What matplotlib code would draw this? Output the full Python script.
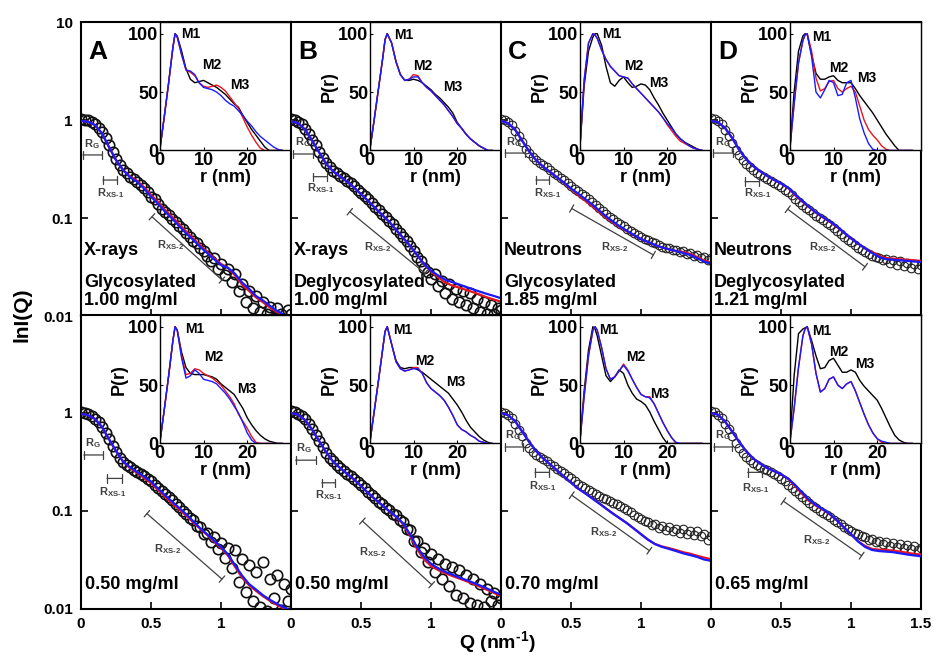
import matplotlib.pyplot as plt
from matplotlib.ticker import NullLocator

plt.rcParams['font.family'] = ['Liberation Sans', 'DejaVu Sans']
plt.rcParams['font.weight'] = 'bold'
plt.rcParams['axes.labelweight'] = 'bold'
plt.rcParams['mathtext.fontset'] = 'custom'
plt.rcParams['mathtext.rm'] = 'Liberation Sans:bold'
plt.rcParams['mathtext.it'] = 'Liberation Sans:bold'
plt.rcParams['mathtext.bf'] = 'Liberation Sans:bold'
plt.rcParams['mathtext.default'] = 'rm'

# Q grids (nm^-1) for the modelled curves and the measured points
q_fit = [0.0, 0.05, 0.1, 0.15, 0.2, 0.25, 0.3, 0.35, 0.4, 0.45, 0.5, 0.55, 0.6, 0.65, 0.7, 0.75,
         0.8, 0.85, 0.9, 0.95, 1.0, 1.05, 1.1, 1.15, 1.2, 1.25, 1.3, 1.35, 1.4, 1.45, 1.5]
q_exp = [0.0, 0.025, 0.05, 0.075, 0.1, 0.125, 0.15, 0.175, 0.2, 0.225, 0.25, 0.275, 0.3, 0.325,
         0.35, 0.375, 0.4, 0.425, 0.45, 0.475, 0.5, 0.525, 0.55, 0.575, 0.6, 0.625, 0.65, 0.675,
         0.7, 0.725, 0.75, 0.775, 0.8, 0.825, 0.85, 0.875, 0.9, 0.925, 0.95, 0.975, 1.0, 1.025,
         1.05, 1.075, 1.1, 1.125, 1.15, 1.175, 1.2, 1.225, 1.25, 1.275, 1.3, 1.325, 1.35, 1.375,
         1.4, 1.425, 1.45, 1.475, 1.5]
# r grid (nm) for the distance distributions
r_nm = [0, 1, 2, 3, 3.5, 4, 5, 6, 7, 8, 9, 10, 11, 12, 13, 14, 15, 16, 17, 18, 19, 20, 21, 22,
        23, 24, 25, 26, 27, 28]

# ---- A, X-rays glycosylated 1.00 mg/ml
exp_a1 = [1.02, 1.01, 0.99, 0.95, 0.90, 0.83, 0.75, 0.65, 0.56, 0.47, 0.40, 0.35, 0.31, 0.285, 0.265,
          0.25, 0.235, 0.215, 0.20, 0.185, 0.165, 0.155, 0.14, 0.125, 0.115, 0.107, 0.097, 0.09, 0.082,
          0.077, 0.07, 0.064, 0.058, 0.055, 0.05, 0.046, 0.041, 0.036, 0.039, 0.030, 0.034, 0.026, 0.030,
          0.022, 0.027, 0.018, 0.021, 0.014, 0.018, 0.012, 0.016, 0.011, 0.014, 0.0105, 0.0125, 0.0095,
          0.012, 0.0105, 0.009, 0.0115, 0.0105]
red_a1 = [0.98, 0.96, 0.89, 0.73, 0.53, 0.39, 0.31, 0.265, 0.24, 0.207, 0.172, 0.146, 0.121, 0.103, 0.087,
          0.073, 0.062, 0.053, 0.045, 0.039, 0.034, 0.031, 0.026, 0.021, 0.018, 0.0155, 0.0138, 0.0122,
          0.011, 0.0101, 0.0092]
blue_a1 = [0.98, 0.96, 0.89, 0.73, 0.53, 0.39, 0.31, 0.26, 0.235, 0.20, 0.165, 0.14, 0.116, 0.099, 0.083,
           0.07, 0.06, 0.051, 0.044, 0.038, 0.033, 0.031, 0.027, 0.022, 0.019, 0.016, 0.0144, 0.0127,
           0.0113, 0.0103, 0.0093]
pr_black_a1 = [0, 28, 57, 88, 100, 98, 85, 70, 61, 58, 59, 60, 58, 56, 54, 51, 48, 44, 40, 37, 30, 24,
               18, 13, 8, 3, 0, 0, 0, 0]
pr_red_a1 = [0, 28, 57, 88, 100, 97, 82, 69, 67, 64, 58, 55, 54, 55, 56, 54, 51, 46, 41, 36, 28, 20,
             13, 7, 2, 0, 0, 0, 0, 0]
pr_blue_a1 = [0, 28, 57, 88, 100, 97, 82, 69, 68, 65, 58, 54, 53, 52, 50, 47, 43, 40, 38, 34, 30, 25,
              21, 16, 12, 9, 6, 3, 1, 0]

# ---- B, X-rays deglycosylated 1.00 mg/ml
exp_b1 = [1.03, 1.01, 0.96, 0.90, 0.81, 0.72, 0.63, 0.55, 0.47, 0.41, 0.36, 0.33, 0.305, 0.285, 0.27,
          0.255, 0.24, 0.225, 0.21, 0.195, 0.18, 0.167, 0.155, 0.143, 0.131, 0.12, 0.111, 0.102, 0.094,
          0.086, 0.078, 0.071, 0.064, 0.058, 0.052, 0.046, 0.040, 0.036, 0.031, 0.028, 0.024, 0.027,
          0.020, 0.023, 0.017, 0.021, 0.015, 0.019, 0.014, 0.018, 0.013, 0.017, 0.012, 0.015, 0.011,
          0.014, 0.0105, 0.013, 0.0105, 0.012, 0.0115]
red_b1 = [0.97, 0.93, 0.80, 0.62, 0.47, 0.36, 0.30, 0.265, 0.235, 0.205, 0.175, 0.15, 0.127, 0.108, 0.092,
          0.076, 0.063, 0.052, 0.042, 0.034, 0.0285, 0.025, 0.022, 0.0205, 0.0195, 0.0185, 0.0175,
          0.0165, 0.0155, 0.0147, 0.014]
blue_b1 = [0.97, 0.93, 0.80, 0.62, 0.47, 0.36, 0.30, 0.265, 0.235, 0.205, 0.175, 0.15, 0.127, 0.108, 0.092,
           0.076, 0.063, 0.052, 0.042, 0.034, 0.029, 0.026, 0.0235, 0.0222, 0.021, 0.0198, 0.0187,
           0.0177, 0.0168, 0.016, 0.0152]
pr_black_b1 = [0, 26, 53, 80, 95, 100, 92, 76, 65, 60, 60, 61, 60, 58, 55, 52, 48, 45, 41, 37, 32, 24,
               19, 14, 10, 7, 4, 2, 0, 0]
pr_red_b1 = [0, 26, 53, 80, 95, 100, 92, 76, 65, 60, 61, 65, 64, 58, 54, 51, 47, 43, 39, 34, 29, 23,
             19, 14, 10, 7, 4, 2, 0, 0]
pr_blue_b1 = [0, 26, 53, 80, 95, 100, 92, 76, 65, 60, 61, 63, 63, 58, 54, 51, 47, 43, 39, 34, 29, 23,
              19, 14, 10, 7, 4, 2, 0, 0]

# ---- C, neutrons glycosylated 1.85 mg/ml
exp_c1 = [1.03, 1.0, 0.95, 0.88, 0.78, 0.68, 0.59, 0.51, 0.46, 0.42, 0.39, 0.365, 0.35, 0.33, 0.31,
          0.29, 0.272, 0.257, 0.242, 0.226, 0.212, 0.199, 0.188, 0.176, 0.166, 0.156, 0.146, 0.136,
          0.127, 0.118, 0.110, 0.103, 0.097, 0.091, 0.086, 0.082, 0.078, 0.074, 0.070, 0.067, 0.064,
          0.061, 0.059, 0.057, 0.055, 0.053, 0.051, 0.049, 0.049, 0.047, 0.047, 0.045, 0.046, 0.043,
          0.044, 0.041, 0.042, 0.039, 0.040, 0.037, 0.039]
red_c1 = [0.98, 0.93, 0.80, 0.62, 0.48, 0.39, 0.335, 0.295, 0.26, 0.228, 0.197, 0.172, 0.151, 0.133,
          0.116, 0.101, 0.090, 0.081, 0.073, 0.067, 0.061, 0.057, 0.053, 0.050, 0.048, 0.046, 0.045,
          0.043, 0.040, 0.037, 0.035]
blue_c1 = [0.98, 0.93, 0.80, 0.62, 0.48, 0.39, 0.335, 0.295, 0.26, 0.23, 0.20, 0.178, 0.157, 0.138,
           0.12, 0.104, 0.092, 0.082, 0.074, 0.067, 0.061, 0.057, 0.053, 0.050, 0.048, 0.046, 0.044,
           0.042, 0.039, 0.036, 0.034]
pr_black_c1 = [0, 55, 85, 97, 100, 100, 90, 72, 58, 55, 60, 63, 58, 54, 55, 57, 56, 52, 45, 39, 32, 26,
               20, 14, 10, 7, 5, 3, 1, 0]
pr_red_c1 = [0, 60, 92, 100, 99, 96, 86, 78, 72, 68, 64, 63, 62, 57, 53, 49, 45, 41, 37, 33, 28, 22,
             17, 12, 8, 6, 4, 2, 1, 0]
pr_blue_c1 = [0, 60, 92, 100, 99, 96, 86, 78, 72, 68, 64, 63, 62, 57, 53, 49, 45, 41, 37, 33, 28, 23,
              19, 14, 10, 7, 4, 2, 1, 0]

# ---- D, neutrons deglycosylated 1.21 mg/ml
exp_d1 = [1.05, 1.03, 0.98, 0.90, 0.79, 0.68, 0.58, 0.50, 0.44, 0.39, 0.355, 0.33, 0.31, 0.29, 0.275,
          0.26, 0.25, 0.237, 0.226, 0.215, 0.205, 0.195, 0.183, 0.17, 0.158, 0.146, 0.136, 0.127, 0.12,
          0.112, 0.106, 0.1, 0.095, 0.089, 0.084, 0.079, 0.074, 0.069, 0.064, 0.060, 0.057, 0.053,
          0.050, 0.047, 0.045, 0.043, 0.041, 0.040, 0.039, 0.037, 0.038, 0.035, 0.037, 0.033, 0.036,
          0.032, 0.035, 0.031, 0.034, 0.030, 0.033]
red_d1 = [0.98, 0.95, 0.83, 0.66, 0.50, 0.40, 0.34, 0.30, 0.27, 0.245, 0.225, 0.203, 0.172, 0.148, 0.129,
          0.113, 0.101, 0.091, 0.081, 0.071, 0.062, 0.055, 0.049, 0.045, 0.041, 0.039, 0.0385, 0.038,
          0.0375, 0.037, 0.0365]
blue_d1 = [0.98, 0.95, 0.83, 0.66, 0.50, 0.40, 0.34, 0.30, 0.27, 0.245, 0.225, 0.205, 0.175, 0.15, 0.13,
           0.114, 0.102, 0.092, 0.082, 0.071, 0.062, 0.055, 0.049, 0.044, 0.040, 0.038, 0.0375, 0.037,
           0.0365, 0.036, 0.0355]
pr_black_d1 = [0, 50, 85, 98, 100, 99, 82, 66, 61, 61, 63, 64, 60, 58, 58, 58, 53, 47, 42, 37, 32, 26,
               20, 14, 9, 4, 0, 0, 0, 0]
pr_red_d1 = [0, 40, 75, 94, 99, 100, 85, 62, 51, 53, 59, 60, 53, 50, 53, 55, 50, 38, 26, 18, 13, 9,
             4, 1, 0, 0, 0, 0, 0, 0]
pr_blue_d1 = [0, 40, 75, 94, 99, 100, 80, 50, 45, 52, 60, 58, 47, 48, 58, 60, 45, 27, 15, 6, 1, 0,
              0, 0, 0, 0, 0, 0, 0, 0]

# ---- A, X-rays glycosylated 0.50 mg/ml
exp_a2 = [1.02, 1.0, 0.97, 0.93, 0.87, 0.80, 0.72, 0.63, 0.54, 0.46, 0.40, 0.35, 0.315, 0.295, 0.28,
          0.265, 0.25, 0.24, 0.225, 0.21, 0.20, 0.185, 0.172, 0.16, 0.148, 0.138, 0.128, 0.118, 0.11,
          0.100, 0.094, 0.085, 0.080, 0.071, 0.068, 0.058, 0.060, 0.048, 0.054, 0.041, 0.047, 0.033,
          0.042, 0.026, 0.040, 0.019, 0.032, 0.015, 0.028, 0.012, 0.024, 0.0105, 0.030, 0.0095, 0.020,
          0.013, 0.022, 0.0098, 0.018, 0.012, 0.016]
red_a2 = [0.98, 0.95, 0.87, 0.72, 0.54, 0.41, 0.32, 0.275, 0.245, 0.218, 0.193, 0.164, 0.14, 0.12, 0.104,
          0.09, 0.077, 0.066, 0.057, 0.049, 0.042, 0.035, 0.027, 0.021, 0.0175, 0.0153, 0.0135, 0.0121,
          0.011, 0.0101, 0.0093]
blue_a2 = [0.98, 0.95, 0.87, 0.72, 0.54, 0.41, 0.32, 0.28, 0.25, 0.225, 0.20, 0.17, 0.145, 0.125, 0.108,
           0.093, 0.079, 0.067, 0.058, 0.050, 0.043, 0.036, 0.028, 0.022, 0.018, 0.0158, 0.0138, 0.0124,
           0.0113, 0.0104, 0.0096]
pr_black_a2 = [0, 28, 57, 88, 100, 97, 78, 65, 60, 59, 59, 59, 58, 57, 55, 51, 48, 45, 42, 36, 30, 22,
               16, 11, 7, 4, 2, 1, 0, 0]
pr_red_a2 = [0, 28, 57, 88, 100, 97, 75, 59, 60, 64, 63, 60, 58, 56, 53, 50, 45, 40, 34, 25, 19, 13,
             6, 1, 0, 0, 0, 0, 0, 0]
pr_blue_a2 = [0, 28, 57, 88, 100, 97, 73, 56, 58, 63, 60, 55, 54, 53, 51, 47, 43, 38, 32, 26, 18, 9,
              3, 0, 0, 0, 0, 0, 0, 0]

# ---- B, X-rays deglycosylated 0.50 mg/ml
exp_b2 = [1.04, 1.02, 0.98, 0.93, 0.86, 0.78, 0.69, 0.60, 0.52, 0.45, 0.39, 0.35, 0.32, 0.295, 0.275,
          0.258, 0.24, 0.226, 0.21, 0.197, 0.183, 0.17, 0.157, 0.146, 0.136, 0.125, 0.118, 0.108, 0.103,
          0.093, 0.090, 0.080, 0.078, 0.066, 0.064, 0.050, 0.050, 0.038, 0.042, 0.030, 0.036, 0.024,
          0.032, 0.020, 0.029, 0.017, 0.027, 0.014, 0.025, 0.013, 0.022, 0.0115, 0.020, 0.011, 0.018,
          0.0105, 0.016, 0.012, 0.0145, 0.011, 0.013]
red_b2 = [1.0, 0.96, 0.85, 0.68, 0.52, 0.40, 0.32, 0.275, 0.24, 0.21, 0.18, 0.153, 0.132, 0.115, 0.10,
          0.087, 0.074, 0.056, 0.041, 0.032, 0.0275, 0.025, 0.0232, 0.0218, 0.0205, 0.0193, 0.0181,
          0.0169, 0.0157, 0.0146, 0.0135]
blue_b2 = [1.0, 0.96, 0.85, 0.68, 0.52, 0.40, 0.32, 0.275, 0.24, 0.21, 0.18, 0.153, 0.132, 0.115, 0.10,
           0.088, 0.075, 0.058, 0.043, 0.034, 0.029, 0.026, 0.024, 0.0225, 0.021, 0.0198, 0.0186,
           0.0174, 0.0162, 0.015, 0.014]
pr_black_b2 = [0, 27, 54, 82, 96, 100, 85, 71, 65, 64, 65, 65, 63, 61, 58, 55, 52, 49, 46, 43, 38, 33,
               27, 20, 14, 10, 6, 3, 1, 0]
pr_red_b2 = [0, 27, 54, 82, 96, 100, 85, 70, 64, 62, 63, 65, 65, 60, 52, 47, 44, 41, 37, 31, 24, 16,
             12, 10, 7, 5, 2, 1, 0, 0]
pr_blue_b2 = [0, 27, 54, 82, 96, 100, 85, 70, 64, 62, 63, 64, 64, 60, 52, 47, 44, 41, 37, 31, 24, 16,
              12, 10, 7, 5, 2, 1, 0, 0]

# ---- C, neutrons glycosylated 0.70 mg/ml
exp_c2 = [1.03, 1.01, 0.96, 0.88, 0.78, 0.67, 0.58, 0.50, 0.44, 0.40, 0.37, 0.355, 0.34, 0.32, 0.30,
          0.285, 0.27, 0.255, 0.242, 0.228, 0.215, 0.202, 0.19, 0.18, 0.17, 0.162, 0.155, 0.148, 0.142,
          0.137, 0.132, 0.127, 0.122, 0.117, 0.112, 0.107, 0.102, 0.097, 0.092, 0.087, 0.083, 0.079,
          0.077, 0.072, 0.073, 0.067, 0.070, 0.064, 0.068, 0.062, 0.066, 0.060, 0.065, 0.058, 0.063,
          0.057, 0.062, 0.056, 0.058, 0.051, 0.055]
red_c2 = [1.0, 0.95, 0.83, 0.65, 0.51, 0.41, 0.345, 0.30, 0.26, 0.225, 0.195, 0.17, 0.152, 0.135, 0.12,
          0.106, 0.094, 0.084, 0.075, 0.066, 0.058, 0.051, 0.046, 0.0435, 0.0418, 0.040, 0.038, 0.0367,
          0.035, 0.0335, 0.0322]
blue_c2 = [1.0, 0.95, 0.83, 0.65, 0.51, 0.41, 0.345, 0.30, 0.26, 0.225, 0.195, 0.17, 0.152, 0.135, 0.12,
           0.106, 0.094, 0.084, 0.075, 0.066, 0.058, 0.051, 0.046, 0.043, 0.041, 0.039, 0.037, 0.0355,
           0.034, 0.032, 0.031]
pr_black_c2 = [0, 45, 80, 100, 98, 92, 75, 58, 53, 57, 63, 60, 50, 43, 38, 36, 33, 27, 19, 12, 5, 0,
               0, 0, 0, 0, 0, 0, 0, 0]
pr_red_c2 = [0, 40, 75, 97, 100, 97, 82, 64, 55, 57, 62, 68, 63, 55, 48, 42, 40, 40, 34, 26, 18, 11,
             5, 0, 0, 0, 0, 0, 0, 0]
pr_blue_c2 = [0, 40, 75, 97, 100, 97, 82, 64, 55, 57, 62, 67, 62, 55, 48, 42, 40, 39, 34, 26, 18, 11,
              5, 1, 0, 0, 0, 0, 0, 0]

# ---- D, neutrons deglycosylated 0.65 mg/ml
exp_d2 = [1.04, 1.02, 0.96, 0.88, 0.78, 0.68, 0.58, 0.50, 0.44, 0.39, 0.355, 0.33, 0.31, 0.295, 0.28,
          0.27, 0.26, 0.25, 0.238, 0.226, 0.214, 0.2, 0.186, 0.172, 0.16, 0.148, 0.138, 0.128, 0.12,
          0.113, 0.107, 0.101, 0.096, 0.091, 0.086, 0.081, 0.077, 0.073, 0.069, 0.066, 0.063, 0.060,
          0.058, 0.055, 0.054, 0.051, 0.052, 0.048, 0.050, 0.046, 0.048, 0.044, 0.047, 0.043, 0.046,
          0.042, 0.045, 0.041, 0.044, 0.040, 0.042]
red_d2 = [1.0, 0.96, 0.82, 0.65, 0.51, 0.41, 0.345, 0.305, 0.275, 0.255, 0.237, 0.213, 0.18, 0.15, 0.127,
          0.113, 0.103, 0.092, 0.08, 0.068, 0.058, 0.049, 0.044, 0.041, 0.0403, 0.040, 0.0395, 0.0385,
          0.0375, 0.0365, 0.036]
blue_d2 = [1.0, 0.96, 0.82, 0.65, 0.51, 0.41, 0.345, 0.305, 0.275, 0.255, 0.237, 0.215, 0.185, 0.155,
           0.13, 0.115, 0.104, 0.093, 0.08, 0.068, 0.058, 0.049, 0.043, 0.040, 0.039, 0.0385, 0.038,
           0.037, 0.036, 0.0352, 0.0345]
pr_black_d2 = [0, 58, 94, 98, 99, 100, 88, 75, 64, 65, 71, 73, 67, 61, 61, 63, 61, 54, 49, 45, 41, 37,
               30, 22, 14, 7, 3, 1, 0, 0]
pr_red_d2 = [0, 30, 65, 92, 98, 100, 85, 60, 44, 47, 55, 57, 50, 47, 51, 53, 45, 35, 25, 16, 9, 4,
             1, 0, 0, 0, 0, 0, 0, 0]
pr_blue_d2 = [0, 30, 65, 92, 98, 100, 85, 60, 44, 47, 55, 57, 50, 47, 51, 53, 45, 35, 25, 16, 9, 4,
              2, 1, 0, 0, 0, 0, 0, 0]

panels = [
    dict(row=0, col=0, letter='A', xray=True, exp=exp_a1, red=red_a1, blue=blue_a1,
         pr=(pr_black_a1, pr_red_a1, pr_blue_a1), pr_label=False,
         lines=['X-rays', 'Glycosylated', '1.00 mg/ml'],
         rg=(0.014, 0.15, 0.44, 0.08, 0.57), xs1=(0.157, 0.257, 0.244, 0.21, 0.18),
         xs2=(0.507, 0.103, 1.007, 0.0233, 0.64, 0.053),
         m=((5.0, 100), (9.7, 73), (16.0, 56))),
    dict(row=0, col=1, letter='B', xray=True, exp=exp_b1, red=red_b1, blue=blue_b1,
         pr=(pr_black_b1, pr_red_b1, pr_blue_b1), pr_label=True,
         lines=['X-rays', 'Deglycosylated', '1.00 mg/ml'],
         rg=(0.017, 0.16, 0.45, 0.085, 0.6), xs1=(0.16, 0.255, 0.264, 0.21, 0.2),
         xs2=(0.42, 0.116, 0.957, 0.0273, 0.615, 0.051),
         m=((5.6, 99), (9.8, 72), (16.8, 54))),
    dict(row=0, col=2, letter='C', xray=False, exp=exp_c1, red=red_c1, blue=blue_c1,
         pr=(pr_black_c1, pr_red_c1, pr_blue_c1), pr_label=True,
         lines=['Neutrons', 'Glycosylated', '1.85 mg/ml'],
         rg=(0.03, 0.17, 0.46, 0.093, 0.6), xs1=(0.25, 0.345, 0.244, 0.333, 0.18),
         xs2=(0.505, 0.125, 1.088, 0.042, 0.81, 0.05),
         m=((5.2, 100), (10.2, 72), (15.8, 58))),
    dict(row=0, col=3, letter='D', xray=False, exp=exp_d1, red=red_d1, blue=blue_d1,
         pr=(pr_black_d1, pr_red_d1, pr_blue_d1), pr_label=True,
         lines=['Neutrons', 'Deglycosylated', '1.21 mg/ml'],
         rg=(0.017, 0.16, 0.46, 0.088, 0.6), xs1=(0.243, 0.345, 0.235, 0.331, 0.18),
         xs2=(0.548, 0.123, 1.1, 0.0318, 0.80, 0.05),
         m=((5.1, 97), (8.9, 71), (15.4, 62))),
    dict(row=1, col=0, letter=None, xray=True, exp=exp_a2, red=red_a2, blue=blue_a2,
         pr=(pr_black_a2, pr_red_a2, pr_blue_a2), pr_label=True,
         lines=['0.50 mg/ml'],
         rg=(0.02, 0.16, 0.373, 0.086, 0.49), xs1=(0.186, 0.293, 0.215, 0.229, 0.157),
         xs2=(0.471, 0.094, 1.007, 0.0202, 0.62, 0.041),
         m=((5.8, 98), (10.2, 74), (17.7, 47))),
    dict(row=1, col=1, letter=None, xray=True, exp=exp_b2, red=red_b2, blue=blue_b2,
         pr=(pr_black_b2, pr_red_b2, pr_blue_b2), pr_label=True,
         lines=['0.50 mg/ml'],
         rg=(0.033, 0.176, 0.33, 0.095, 0.435), xs1=(0.22, 0.314, 0.194, 0.267, 0.144),
         xs2=(0.51, 0.079, 1.005, 0.0177, 0.58, 0.0384),
         m=((5.4, 97), (10.4, 71), (17.5, 53))),
    dict(row=1, col=2, letter=None, xray=False, exp=exp_c2, red=red_c2, blue=blue_c2,
         pr=(pr_black_c2, pr_red_c2, pr_blue_c2), pr_label=True,
         lines=['0.70 mg/ml'],
         rg=(0.03, 0.16, 0.45, 0.088, 0.6), xs1=(0.243, 0.345, 0.248, 0.298, 0.18),
         xs2=(0.505, 0.145, 1.06, 0.0394, 0.736, 0.061),
         m=((4.5, 97), (10.5, 74), (16.0, 42))),
    dict(row=1, col=3, letter=None, xray=False, exp=exp_d2, red=red_d2, blue=blue_d2,
         pr=(pr_black_d2, pr_red_d2, pr_blue_d2), pr_label=True,
         lines=['0.65 mg/ml'],
         rg=(0.02, 0.152, 0.45, 0.088, 0.6), xs1=(0.262, 0.362, 0.248, 0.319, 0.17),
         xs2=(0.517, 0.126, 1.076, 0.035, 0.755, 0.051),
         m=((5.0, 96), (9.1, 78), (15.0, 68))),
]

FIG_W, FIG_H = 936, 659
col_left = [81, 291, 501, 711]
row_top = [22, 315]
panel_w, panel_h = 210, 294
gray = '#404040'


def range_bar(ax, x0, y0, x1, y1):
    ax.annotate('', xy=(x1, y1), xytext=(x0, y0), zorder=5,
                arrowprops=dict(arrowstyle='|-|,widthA=0.3,widthB=0.3', color=gray,
                                lw=0.9, shrinkA=0, shrinkB=0))


fig = plt.figure(figsize=(FIG_W / 100, FIG_H / 100), dpi=100)

for p in panels:
    left = col_left[p['col']] / FIG_W
    bottom = 1 - (row_top[p['row']] + panel_h) / FIG_H
    ax = fig.add_axes([left, bottom, panel_w / FIG_W, panel_h / FIG_H])

    # X-ray curves are sampled much more densely, so their circles pile up into a dark band
    if p['xray']:
        ax.plot(q_exp, p['exp'], 'o', ms=7.5, mfc='none', mec='#111111', mew=1.2, zorder=2)
    else:
        ax.plot(q_exp, p['exp'], 'o', ms=6.2, mfc='none', mec='#222222', mew=0.8, zorder=2)
    ax.plot(q_fit, p['red'], color='#e8141c', lw=1.6, zorder=3)
    ax.plot(q_fit, p['blue'], color='#1a1aff', lw=1.6, zorder=4)

    ax.set_yscale('log')
    ax.set_xlim(0, 1.5)
    ax.set_ylim(0.01, 10)
    ax.yaxis.set_minor_locator(NullLocator())
    ax.tick_params(direction='in', length=5, width=1.2, labelsize=11, pad=6)
    for s in ax.spines.values():
        s.set_linewidth(1.5)

    if p['row'] == 0:
        ax.set_xticks([0.5, 1.0])
        ax.set_xticklabels([])
        yt = [0.01, 0.1, 1, 10]
    else:
        if p['col'] == 3:
            ax.set_xticks([0, 0.5, 1.0, 1.5])
            ax.set_xticklabels(['0', '0.5', '1', '1.5'])
        else:
            ax.set_xticks([0, 0.5, 1.0])
            ax.set_xticklabels(['0', '0.5', '1'])
        yt = [0.01, 0.1, 1]
    ax.set_yticks(yt)
    if p['col'] == 0:
        ax.set_yticklabels([f'{v:g}' for v in yt])
    else:
        ax.set_yticklabels([])

    # Guinier and cross-section fit ranges
    g0, g1, gy, gtx, gty = p['rg']
    range_bar(ax, g0, gy, g1, gy)
    ax.text(gtx, gty, r'R$_{\text{G}}$', fontsize=8, color=gray, ha='center', va='center')
    x0, x1, xy, xtx, xty = p['xs1']
    range_bar(ax, x0, xy, x1, xy)
    ax.text(xtx, xty, r'R$_{\text{XS-1}}$', fontsize=8, color=gray, ha='center', va='center')
    a0, ay0, a1, ay1, atx, aty = p['xs2']
    range_bar(ax, a0, ay0, a1, ay1)
    ax.text(atx, aty, r'R$_{\text{XS-2}}$', fontsize=8, color=gray, ha='center', va='center')

    if p['letter']:
        ax.text(0.033, 0.94, p['letter'], transform=ax.transAxes, fontsize=19,
                ha='left', va='top')
    if len(p['lines']) == 3:
        for txt, yy in zip(p['lines'], [0.222, 0.115, 0.054]):
            ax.text(0.015, yy, txt, transform=ax.transAxes, fontsize=13, ha='left', va='center')
    else:
        ax.text(0.02, 0.082, p['lines'][0], transform=ax.transAxes, fontsize=13,
                ha='left', va='center')

    # P(r) inset
    ins = ax.inset_axes([0.375, 0.563, 0.625, 0.437])
    ins.set_facecolor('white')
    black_pr, red_pr, blue_pr = p['pr']
    ins.plot(r_nm, black_pr, color='black', lw=1.0)
    ins.plot(r_nm, red_pr, color='#e8141c', lw=1.0)
    ins.plot(r_nm, blue_pr, color='#1a1aff', lw=1.0)
    ins.set_xlim(0, 30)
    ins.set_ylim(0, 110)
    ins.set_xticks([0, 10, 20])
    ins.set_yticks([0, 50, 100])
    ins.tick_params(direction='in', length=2, width=0.8, labelsize=13, pad=1)
    for s in ins.spines.values():
        s.set_linewidth(1.0)
    ins.set_xlabel('r (nm)', fontsize=13, labelpad=0)
    if p['pr_label']:
        ins.set_ylabel('P(r)', fontsize=13, labelpad=0)
    for name, (mx, my) in zip(['M1', 'M2', 'M3'], p['m']):
        ins.text(mx, my, name, fontsize=10, ha='left', va='center')

fig.text(0.023, 0.523, 'lnI(Q)', rotation=90, fontsize=15, ha='center', va='center')
fig.text(0.531, 0.026, r'Q (nm$^{\text{-1}}$)', fontsize=14, ha='center', va='center')

fig.savefig('out.png', dpi=100)
